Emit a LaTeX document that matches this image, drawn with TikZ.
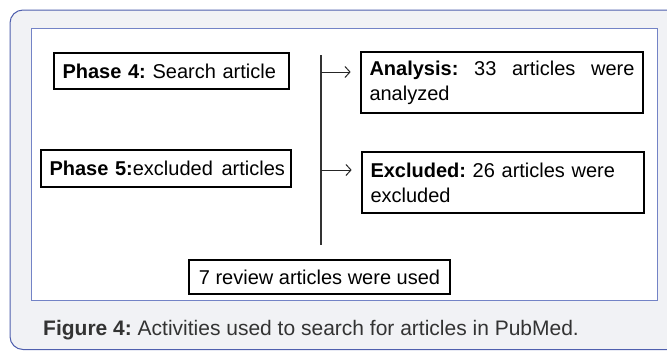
\documentclass[tikz,border=0pt]{standalone}
\usepackage{fontspec}
\setmainfont{Liberation Sans}
\usetikzlibrary{arrows.meta}
\frenchspacing
\definecolor{framefill}{HTML}{F1F2F5}
\definecolor{frameline}{HTML}{4F5FAE}
\definecolor{innerline}{HTML}{7383C6}
\definecolor{captext}{HTML}{333333}
\newcommand{\boxfont}{\fontsize{20}{25}\selectfont\hyphenpenalty=10000\relax\frenchspacing}
\tikzset{
  boxnode/.style={draw=black, line width=2.7pt, fill=white, inner xsep=8pt, inner ysep=0pt,
    font=\boxfont, text=black},
  vline/.style={draw=black!80, line width=1.3pt},
  arr/.style={draw=black!85, line width=1pt, -{Straight Barb[length=5pt,width=11pt]}, shorten >=9pt}
}
\begin{document}
\begin{tikzpicture}[x=1pt,y=-1pt]
\useasboundingbox (0,0) rectangle (667,351);
\clip (0,0) rectangle (667,351);
% outer frame
\draw[fill=framefill, draw=frameline, line width=1pt, rounded corners=13pt] (10,10) rectangle (720,349.5);
% inner panel
\draw[fill=white, draw=innerline, line width=1pt] (31,28) rectangle (657,300);

% boxes
\node[boxnode, minimum width=235pt, minimum height=36pt, text width=218pt, align=left] (p4) at (171.5,71) {\mbox{\textbf{Phase 4:} Search article}};
\node[boxnode, minimum width=250pt, minimum height=37pt, text width=233pt, align=left] (p5) at (166,168.5) {\mbox{\textbf{Phase 5:}excluded\hspace{2pt} articles}};
\node[boxnode, minimum width=282pt, minimum height=61pt, text width=265pt, align=justify] (ana) at (502,82.5) {\textbf{Analysis:} 33 articles were analyzed};
\node[boxnode, minimum width=282pt, minimum height=61pt, text width=265pt, align=left] (exc) at (503,182.5) {\textbf{Excluded:} 26 articles were\\excluded};
\node[boxnode, minimum width=261pt, minimum height=34pt, align=center] (rev) at (319.5,277) {7 review articles were used};

% vertical line and arrows
\coordinate (vtop) at (321,55);
\coordinate (vbot) at (321,245);
\coordinate (j1) at (321,72);
\coordinate (j2) at (321,170);
\draw[vline] (vtop) -- (vbot);
\draw[arr] (j1) -- (j1 -| ana.west);
\draw[arr] (j2) -- (j2 -| exc.west);

% caption
\node[anchor=base west, inner sep=0pt, text=captext, font=\fontsize{21}{25}\selectfont] (cap) at (43,335) {\textbf{Figure 4:} Activities used to search for articles in PubMed.};
\end{tikzpicture}
\end{document}
